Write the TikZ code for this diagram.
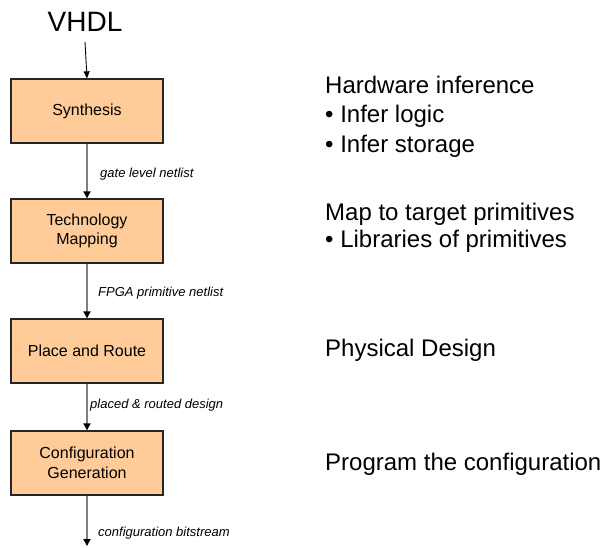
\documentclass[tikz,border=0pt]{standalone}
\usepackage{fontspec}
\setmainfont{Liberation Sans}
\usetikzlibrary{arrows.meta}
\definecolor{stagefill}{HTML}{FFCC99}
\definecolor{stageline}{HTML}{262626}
\definecolor{flowgray}{HTML}{808080}
\begin{document}
\begin{tikzpicture}[x=1pt,y=-1pt,
  stage/.style={draw=stageline, line width=1.3pt, fill=stagefill,
    minimum width=152pt, minimum height=64pt, inner sep=0pt,
    align=center, font=\fontsize{16}{19.5}\selectfont},
  flow/.style={draw=flowgray, line width=1.8pt,
    -{Triangle[width=7pt,length=7pt,black]}},
  inarrow/.style={draw=black, line width=0.9pt,
    -{Triangle[width=6pt,length=7pt,black]}},
  netlabel/.style={anchor=base west, inner sep=0pt,
    font=\fontsize{13}{15}\selectfont\itshape},
  note/.style={anchor=base west, inner sep=0pt,
    font=\fontsize{24}{29}\selectfont},
  title/.style={anchor=base, inner sep=0pt,
    font=\fontsize{28}{32}\selectfont}]
\useasboundingbox (0,0) rectangle (603,547);

% input
\node[title] (vhdl) at (85,31.5) {VHDL};
\coordinate (vin) at (85,42);

% design flow stages
\node[stage] (syn)  at (87,111) {Synthesis};
\node[stage] (tech) at (87,231) {Technology\\Mapping};
\node[stage] (pnr)  at (87,351) {Place and Route};
\node[stage] (cfg)  at (87,463) {Configuration\\Generation};
\coordinate (out) at (87,546);

% connectors
\draw[inarrow] (vin) -- (syn.north);
\draw[flow] (syn) -- (tech);
\draw[flow] (tech) -- (pnr);
\draw[flow] (pnr) -- (cfg);
\draw[flow] (cfg.south) -- (out);

% intermediate results
\node[netlabel] (l1) at (100,177) {gate level netlist};
\node[netlabel] (l2) at (98,296.5) {FPGA primitive netlist};
\node[netlabel] (l3) at (90,408) {placed \& routed design};
\node[netlabel] (l4) at (98,536.5) {configuration bitstream};

% descriptions
\node[note] (n1a) at (325,93) {Hardware inference};
\node[note] (n1b) at (325,122.5) {• Infer logic};
\node[note] (n1c) at (325,152) {• Infer storage};
\node[note] (n2a) at (325,220) {Map to target primitives};
\node[note] (n2b) at (325,247.5) {• Libraries of primitives};
\node[note] (n3)  at (325,356) {Physical Design};
\node[note] (n4)  at (325,470) {Program the configuration};
\end{tikzpicture}
\end{document}
